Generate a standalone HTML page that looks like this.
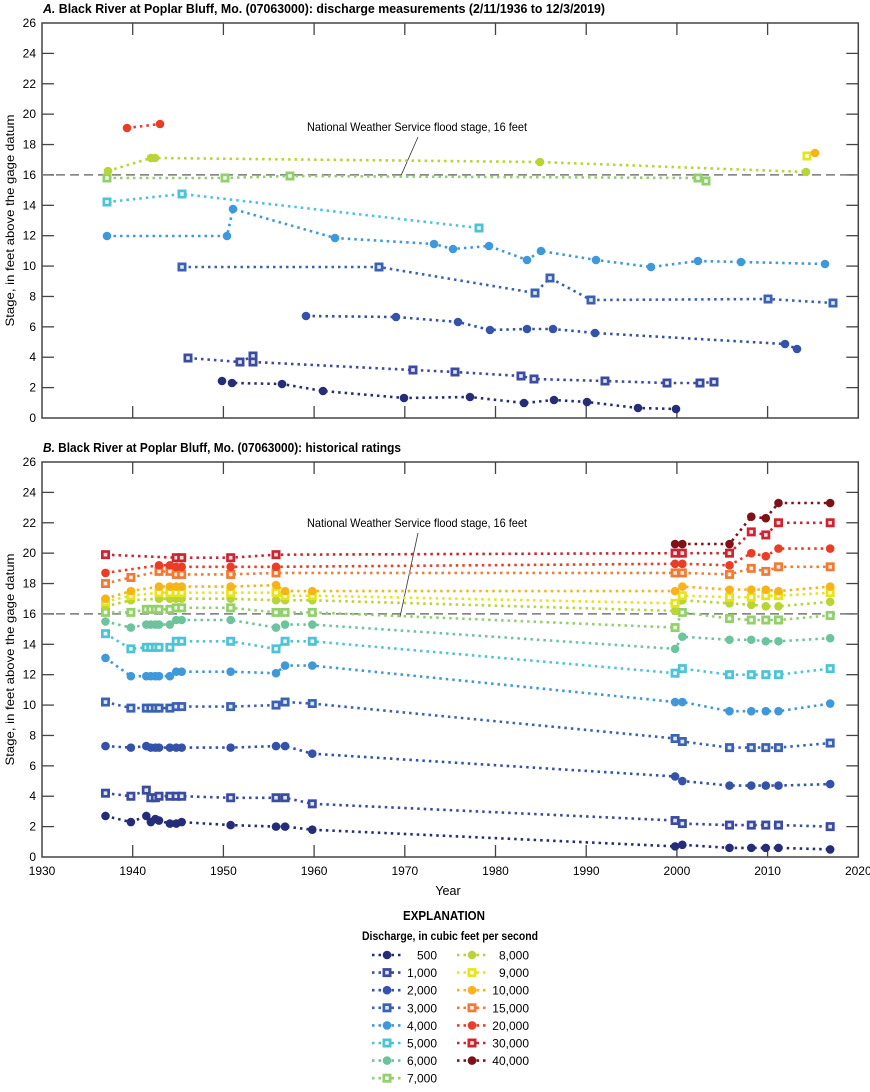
<!DOCTYPE html>
<html><head><meta charset="utf-8"><style>
body{margin:0;background:#fff;}
svg text{font-family:"Liberation Sans Narrow","Liberation Sans",sans-serif;}
</style></head><body>
<svg id="s" width="870" height="1087" xmlns="http://www.w3.org/2000/svg"></svg>
<script>
const S=document.getElementById('s');let h='';
const X0=42,KX=9.07;
function px(y){return X0+(y-1930)*KX;}
const C={500:'#262d78',1000:'#3a4ba0',2000:'#3352a8',3000:'#3b62b2',4000:'#3f98da',5000:'#4dc3d6',6000:'#6dc49c',7000:'#93cf6c',8000:'#b8d435',9000:'#e7e31e',10000:'#f8b31b',15000:'#f07b35',20000:'#ea3c26',30000:'#cc2532',40000:'#7e1116'};
const SQ={1000:1,3000:1,5000:1,7000:1,9000:1,15000:1,30000:1};
function mark(k,x,y){const c=C[k];if(SQ[k])return `<rect x="${x-4.5}" y="${y-4.5}" width="9" height="9" fill="${c}"/><rect x="${x-1.8}" y="${y-1.8}" width="3.6" height="3.6" fill="#fff" opacity="0.85"/>`;return `<circle cx="${x}" cy="${y}" r="4.3" fill="${c}"/>`;}
function series(k,pts){const c=C[k];let d=pts.map((p,i)=>(i?'L':'M')+p[0].toFixed(1)+' '+p[1].toFixed(1)).join(' ');let s=`<path d="${d}" fill="none" stroke="${c}" stroke-width="2.6" stroke-dasharray="2.5,4"/>`;pts.forEach(p=>s+=mark(k,p[0],p[1]));return s;}
function panel(top,bot,title,letter,tl,lab){
 const k=(bot-top)/26;
 h+=`<text x="43" y="${top-10}" font-size="12.5" font-weight="bold" textLength="${tl}" lengthAdjust="spacingAndGlyphs"><tspan font-style="italic">${letter}.</tspan> ${title}</text>`;
 h+=`<rect x="${X0}" y="${top}" width="${px(2020)-X0}" height="${bot-top}" fill="none" stroke="#444" stroke-width="1.5"/>`;
 for(let v=0;v<=26;v+=2){const y=bot-v*k;h+=`<text x="36" y="${y+4}" font-size="12" text-anchor="end">${v}</text>`;if(v>0&&v<26){h+=`<line x1="${X0}" x2="${X0+12}" y1="${y}" y2="${y}" stroke="#444" stroke-width="1.3"/><line x1="${px(2020)-12}" x2="${px(2020)}" y1="${y}" y2="${y}" stroke="#444" stroke-width="1.3"/>`;}}
 for(let yr=1940;yr<2020;yr+=10){const x=px(yr);h+=`<line x1="${x}" x2="${x}" y1="${top}" y2="${top+12}" stroke="#444" stroke-width="1.3"/><line x1="${x}" x2="${x}" y1="${bot-12}" y2="${bot}" stroke="#444" stroke-width="1.3"/>`;}
 const fy=bot-16*k;
 h+=`<line x1="${X0}" x2="${px(2020)}" y1="${fy}" y2="${fy}" stroke="#777" stroke-width="1.5" stroke-dasharray="9,5"/>`;
 h+=`<text x="307" y="${lab}" font-size="12" textLength="220" lengthAdjust="spacingAndGlyphs">National Weather Service flood stage, 16 feet</text>`;
 h+=`<line x1="418" y1="${lab+6}" x2="400" y2="${fy+3}" stroke="#333" stroke-width="0.8"/>`;
 h+=`<text transform="translate(14,${(top+bot)/2}) rotate(-90)" font-size="12" text-anchor="middle" textLength="212" lengthAdjust="spacingAndGlyphs">Stage, in feet above the gage datum</text>`;
 return k;
}
panel(23,418,'Black River at Poplar Bluff, Mo. (07063000): discharge measurements (2/11/1936 to 12/3/2019)','A',562,131);
const A={
20000:[[127,128],[160,124]],
8000:[[108,171],[151,158],[155,158],[540,162],[806,172]],
7000:[[107,178],[225,178],[290,176],[698,178],[706,181]],
5000:[[107,202],[182,194],[479,228]],
4000:[[107,236],[227,236],[233,209],[335,238],[434,244],[453,249],[489,246],[527,260],[541,251],[596,260],[651,267],[698,261],[741,262],[825,264]],
3000:[[182,267],[379,267],[535,293],[550,278],[591,300],[768,299],[833,303]],
2000:[[306,316],[396,317],[458,322],[490,330],[527,329],[553,329],[595,333],[785,344],[797,349]],
1000:[[188,358],[240,362],[253,356],[253,362],[413,370],[455,372],[521,376],[534,379],[605,381],[667,383],[700,383],[714,382]],
500:[[222,381],[232,383],[282,384],[323,391],[404,398],[470,397],[524,403],[554,400],[587,402],[638,408],[676,409]]};
for(const kk in A)h+=series(kk,A[kk]);
h+=series(9000,[[807,156]])+series(10000,[[815,153]]);
const kb=panel(462,857,'Black River at Poplar Bluff, Mo. (07063000): historical ratings','B',358,527);
const Y=[1937,1939.8,1941.5,1942,1942.5,1942.9,1944.1,1944.8,1945.4,1950.8,1955.8,1956.8,1959.8,1999.8,2000.6,2005.8,2008.2,2009.8,2011.2,2016.9];
const _=null;
const B={
40000:[_,_,_,_,_,_,_,_,_,_,_,_,_,20.6,20.6,20.6,22.4,22.3,23.3,23.3],
30000:[19.9,_,_,_,_,_,_,19.7,19.7,19.7,19.9,_,_,20.0,20.0,20.0,21.4,21.2,22.0,22.0],
20000:[18.7,_,_,_,_,19.2,19.2,19.1,19.1,19.1,19.1,_,_,19.3,19.3,19.2,20.0,19.8,20.3,20.3],
15000:[18.0,18.4,_,_,_,18.8,18.8,18.6,18.6,18.6,18.7,_,_,18.7,18.7,18.6,19.0,18.8,19.1,19.1],
10000:[17.0,17.5,_,_,_,17.8,17.8,17.8,17.8,17.8,17.9,17.5,17.5,17.5,17.8,17.6,17.6,17.6,17.5,17.8],
9000:[16.8,17.2,_,_,_,17.4,17.4,17.4,17.4,17.4,17.4,17.2,17.2,16.7,17.2,17.1,17.1,17.2,17.2,17.4],
8000:[16.5,16.9,_,_,_,17.0,17.0,17.0,17.0,17.0,16.9,16.9,16.9,16.2,16.9,16.7,16.6,16.5,16.5,16.8],
7000:[16.1,16.1,16.3,16.3,16.3,16.3,16.3,16.4,16.4,16.4,16.1,16.1,16.1,15.1,16.1,15.7,15.6,15.6,15.6,15.9],
6000:[15.5,15.1,15.3,15.3,15.3,15.3,15.3,15.6,15.6,15.6,15.1,15.3,15.3,13.7,14.5,14.3,14.3,14.2,14.2,14.4],
5000:[14.7,13.7,13.8,13.8,13.8,13.8,13.8,14.2,14.2,14.2,13.7,14.2,14.2,12.1,12.4,12.0,12.0,12.0,12.0,12.4],
4000:[13.1,11.9,11.9,11.9,11.9,11.9,11.9,12.2,12.2,12.2,12.1,12.6,12.6,10.2,10.2,9.6,9.6,9.6,9.6,10.1],
3000:[10.2,9.8,9.8,9.8,9.8,9.8,9.8,9.9,9.9,9.9,10.0,10.2,10.1,7.8,7.6,7.2,7.2,7.2,7.2,7.5],
2000:[7.3,7.2,7.3,7.2,7.2,7.2,7.2,7.2,7.2,7.2,7.3,7.3,6.8,5.3,5.0,4.7,4.7,4.7,4.7,4.8],
1000:[4.2,4.0,4.4,3.9,3.9,4.0,4.0,4.0,4.0,3.9,3.9,3.9,3.5,2.4,2.2,2.1,2.1,2.1,2.1,2.0],
500:[2.7,2.3,2.7,2.3,2.5,2.4,2.2,2.2,2.3,2.1,2.0,2.0,1.8,0.7,0.8,0.6,0.6,0.6,0.6,0.5]};
for(const kk in B){const pts=[];B[kk].forEach((v,i)=>{if(v!==null)pts.push([px(Y[i]),857-v*kb]);});h+=series(kk,pts);}
for(let yr=1930;yr<=2020;yr+=10)h+=`<text x="${px(yr)}" y="875" font-size="12" text-anchor="middle">${yr}</text>`;
h+=`<text x="448" y="895" font-size="12.5" text-anchor="middle">Year</text>`;
h+=`<text x="444" y="920" font-size="13" font-weight="bold" text-anchor="middle" textLength="82" lengthAdjust="spacingAndGlyphs">EXPLANATION</text>`;
h+=`<text x="450" y="940" font-size="11.5" font-weight="bold" text-anchor="middle" textLength="176" lengthAdjust="spacingAndGlyphs">Discharge, in cubic feet per second</text>`;
const L1=[500,1000,2000,3000,4000,5000,6000,7000],L2=[8000,9000,10000,15000,20000,30000,40000];
function leg(list,cx,rx){list.forEach((kk,i)=>{const y=955+i*17.6;h+=`<line x1="${cx-15}" x2="${cx+16}" y1="${y}" y2="${y}" stroke="${C[kk]}" stroke-width="2.6" stroke-dasharray="2.5,4"/>`+mark(kk,cx,y)+`<text x="${rx}" y="${y+4.5}" font-size="12" text-anchor="end">${Number(kk).toLocaleString('en-US')}</text>`;});}
leg(L1,387,437);leg(L2,472,529);
S.innerHTML=h;
</script>
</body></html>
